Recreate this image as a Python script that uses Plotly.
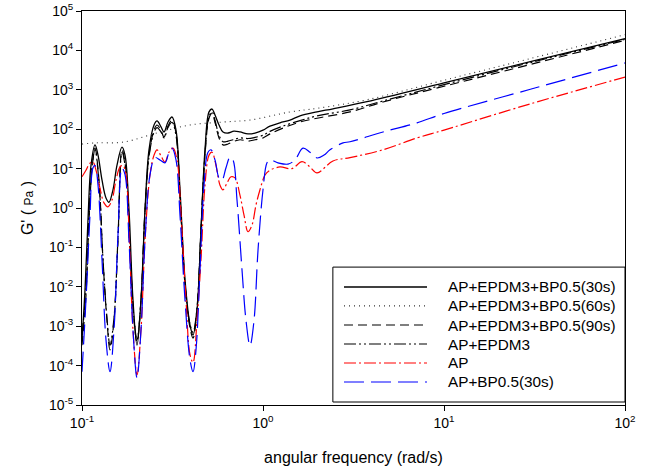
import plotly.graph_objects as go

# ---------------- data (angular frequency in rad/s, G' in Pa) ----------------
names = ["AP+EPDM3+BP0.5(30s)", "AP+EPDM3+BP0.5(60s)", "AP+EPDM3+BP0.5(90s)",
         "AP+EPDM3", "AP", "AP+BP0.5(30s)"]

x_30s = [0.100, 0.1039, 0.1079, 0.1121, 0.1180, 0.1226, 0.1290, 0.1357, 0.1410, 0.1483,
         0.1560, 0.1663, 0.1728, 0.1818, 0.1913, 0.2013, 0.2118, 0.2229, 0.2345, 0.2500,
         0.2597, 0.2732, 0.2838, 0.2986, 0.3142, 0.3306, 0.3479, 0.3708, 0.3952, 0.4106,
         0.4319, 0.4545, 0.4781, 0.5032, 0.5228, 0.5430, 0.5714, 0.6012, 0.6409, 0.6914,
         0.7463, 0.8263, 0.9033, 1.000, 1.093, 1.241, 1.410, 1.601, 1.988, 2.436,
         3.754, 10.0, 30.0, 100.0]
y_30s = [4.5e-4, 8.3e-3, 0.5, 12, 40, 22, 5.1, 1.8, 1.4, 2.9,
         12, 35, 22, 0.9, 4.6e-3, 3.3e-4, 4.6e-3, 0.9, 30, 128,
         162, 115, 85, 152, 204, 95, 2.9, 0.015, 1.07e-3, 6e-4,
         2.6e-3, 0.28, 30, 275, 325, 230, 128, 85, 80, 89,
         85, 76, 80, 95, 120, 145, 170, 218, 275, 330,
         500, 1500, 5200, 2.0e4]

x_60s = [0.100, 0.120, 0.169, 0.259, 0.395, 0.601, 0.848, 1.41, 2.0, 3.76, 10.0, 30.0, 100.0]
y_60s = [42, 45, 47, 80, 128, 152, 171, 274, 340, 560, 1750, 6200, 2.5e4]

x_90s = [0.100, 0.1052, 0.1093, 0.1136, 0.1180, 0.1241, 0.1306, 0.1374, 0.1428, 0.1502,
         0.1580, 0.1663, 0.1750, 0.1841, 0.1938, 0.2013, 0.2118, 0.2229, 0.2345, 0.2500,
         0.2597, 0.2732, 0.2838, 0.2986, 0.3142, 0.3306, 0.3479, 0.3708, 0.3952, 0.4106,
         0.4319, 0.4545, 0.4781, 0.5032, 0.5228, 0.5430, 0.5714, 0.6012, 0.6409, 0.6827,
         0.7463, 0.8263, 0.9033, 1.000, 1.093, 1.290, 1.601, 1.988, 3.025, 4.603,
         10.0, 30.0, 100.0]
y_90s = [3.3e-4, 6e-3, 0.5, 10, 33, 5.1, 0.048, 1.4e-3, 2.5e-4, 1.4e-3,
         0.15, 30, 9, 0.085, 1.4e-3, 4e-4, 4.6e-3, 0.9, 22, 95,
         128, 95, 63, 120, 170, 80, 2.1, 0.011, 9e-4, 5e-4,
         2.6e-3, 0.28, 22, 190, 257, 150, 60, 40, 42, 48,
         54, 50, 54, 60, 76, 107, 152, 190, 275, 490,
         1230, 4400, 1.8e4]

x_epdm = [0.100, 0.1052, 0.1093, 0.1136, 0.1180, 0.1241, 0.1306, 0.1374, 0.1428, 0.1502,
          0.1580, 0.1663, 0.1750, 0.1841, 0.1938, 0.2013, 0.2118, 0.2229, 0.2345, 0.2500,
          0.2597, 0.2732, 0.2838, 0.2986, 0.3142, 0.3306, 0.3479, 0.3708, 0.3952, 0.4106,
          0.4319, 0.4545, 0.4781, 0.5032, 0.5228, 0.5430, 0.5714, 0.6012, 0.6409, 0.6827,
          0.7463, 0.8263, 0.9033, 1.000, 1.093, 1.290, 1.601, 1.988, 3.025, 4.603,
          10.0, 30.0, 100.0]
y_epdm = [6e-4, 8e-3, 0.6, 11, 30, 4.5, 0.05, 1.6e-3, 3.3e-4, 1.6e-3,
          0.17, 26, 8, 0.08, 1.6e-3, 4.5e-4, 4.6e-3, 0.8, 20, 85,
          110, 85, 60, 110, 150, 70, 2, 0.012, 1.1e-3, 7e-4,
          3e-3, 0.3, 25, 210, 275, 170, 70, 48, 50, 54,
          60, 58, 62, 70, 88, 120, 165, 218, 310, 520,
          1350, 4900, 1.9e4]

x_ap = [0.100, 0.1052, 0.1107, 0.1150, 0.1195, 0.1257, 0.1323, 0.1392, 0.1465, 0.1541,
        0.1622, 0.1684, 0.1750, 0.1818, 0.1913, 0.2013, 0.2118, 0.2229, 0.2376, 0.2500,
        0.2597, 0.2732, 0.2874, 0.3025, 0.3183, 0.3349, 0.3524, 0.3754, 0.3952, 0.4106,
        0.4319, 0.4545, 0.4781, 0.5032, 0.5228, 0.5500, 0.5787, 0.6012, 0.6325, 0.6654,
        0.7004, 0.7463, 0.7853, 0.8263, 0.8696, 0.9148, 0.9625, 1.026, 1.093, 1.241,
        1.446, 1.643, 1.818, 1.988, 2.436, 3.025, 4.603, 7.093, 10.0, 30.0,
        100.0]
y_ap = [6.2, 9.1, 13.8, 14.7, 9.1, 3.2, 1.35, 1.07, 1.6, 5.1,
        11, 12, 7, 0.28, 8e-4, 5.8e-5, 8e-4, 0.15, 7, 22,
        30, 21, 14.7, 26, 33, 16.6, 0.66, 4.6e-3, 1.9e-4, 1.2e-4,
        1.4e-3, 0.05, 3.8, 22, 26, 12, 3.8, 2.9, 4.3, 6.2,
        5.8, 2.1, 0.66, 0.25, 0.37, 1.2, 2.9, 6.9, 9.1, 11,
        10, 15, 11, 7.8, 15.6, 19, 30, 60, 95, 440,
        2100]

x_bp = [0.100, 0.1052, 0.1107, 0.1150, 0.1180, 0.1226, 0.1290, 0.1357, 0.1428, 0.1502,
        0.1580, 0.1663, 0.1728, 0.1818, 0.1913, 0.2013, 0.2118, 0.2229, 0.2376, 0.2531,
        0.2697, 0.2874, 0.3025, 0.3142, 0.3306, 0.3479, 0.3708, 0.3952, 0.4106, 0.4264,
        0.4487, 0.4721, 0.4968, 0.5161, 0.5430, 0.5714, 0.5935, 0.6245, 0.6572, 0.6827,
        0.7184, 0.7656, 0.8056, 0.8476, 0.8919, 0.9385, 1.000, 1.052, 1.093, 1.210,
        1.374, 1.502, 1.663, 1.818, 1.988, 2.173, 2.345, 2.767, 3.025, 4.603,
        7.093, 10.0, 30.0, 100.0]
y_bp = [7e-5, 4.6e-3, 0.66, 10.5, 12, 3.8, 0.048, 4.5e-4, 7e-5, 8e-4,
        0.2, 10.5, 7, 0.15, 8e-4, 4.9e-5, 8e-4, 0.15, 7, 19,
        16.6, 14, 26, 33, 16.6, 0.66, 4.6e-3, 1.4e-4, 7e-5, 2.5e-4,
        0.027, 3.8, 26, 30, 16.6, 5.8, 5.1, 10.5, 19.5, 16.6,
        1.6, 0.027, 1.4e-3, 3.2e-4, 1.4e-3, 0.085, 2.9, 14, 16.6, 14,
        13, 16.6, 33, 26, 18.6, 22, 30, 45, 48, 85,
        145, 250, 1030, 4800]

x_ticks = [0.1, 1, 10, 100]
x_ticktext = ["10<sup>-1</sup>", "10<sup>0</sup>", "10<sup>1</sup>", "10<sup>2</sup>"]
y_ticks = [1e-5, 1e-4, 1e-3, 1e-2, 1e-1, 1, 10, 100, 1e3, 1e4, 1e5]
y_ticktext = ["10<sup>-5</sup>", "10<sup>-4</sup>", "10<sup>-3</sup>", "10<sup>-2</sup>",
              "10<sup>-1</sup>", "10<sup>0</sup>", "10<sup>1</sup>", "10<sup>2</sup>",
              "10<sup>3</sup>", "10<sup>4</sup>", "10<sup>5</sup>"]

# ---------------- styles ----------------
colors = ["#000000", "#333333", "#000000", "#000000", "#ff0000", "#0000ff"]
dashes = ["solid", "1px,4px", "9px,5px", "12px,3px,2px,3px,2px,3px",
          "12px,3px,2px,3px", "20px,7px"]
widths = [1.3, 1.1, 1.2, 1.2, 1.2, 1.2]

series = [(x_30s, y_30s), (x_60s, y_60s), (x_90s, y_90s),
          (x_epdm, y_epdm), (x_ap, y_ap), (x_bp, y_bp)]

FONT = "Arial, Liberation Sans, sans-serif"

fig = go.Figure()
for (xs, ys), nm, c, d, w in zip(series, names, colors, dashes, widths):
    fig.add_trace(go.Scatter(x=xs, y=ys, name=nm, mode="lines",
                             line=dict(color=c, dash=d, width=w, shape="spline", smoothing=1.0),
                             showlegend=False))

# ---------------- custom legend (box, line samples, labels) ----------------
shapes = [dict(type="rect", xref="paper", yref="paper", x0=0.462, x1=1.0, y0=0.0076, y1=0.350,
               line=dict(color="black", width=1), fillcolor="white", layer="above")]
annotations = []
leg_y = [0.2995, 0.2515, 0.2030, 0.1548, 0.1066, 0.0584]
for i, nm in enumerate(names):
    shapes.append(dict(type="line", xref="paper", yref="paper", x0=0.4825, x1=0.6354,
                       y0=leg_y[i], y1=leg_y[i],
                       line=dict(color=colors[i], dash=dashes[i], width=widths[i]),
                       layer="above"))
    annotations.append(dict(xref="paper", yref="paper", x=0.670, y=leg_y[i], text=nm,
                            showarrow=False, xanchor="left", yanchor="middle",
                            font=dict(family=FONT, size=15.3, color="black")))

axis_common = dict(type="log", showgrid=False, zeroline=False, showline=True,
                   linecolor="black", linewidth=1, mirror=True, ticks="outside",
                   ticklen=5, tickwidth=1, tickcolor="black",
                   tickfont=dict(family=FONT, size=14, color="black"))

fig.update_layout(
    template="none",
    width=650, height=473,
    margin=dict(l=82, r=25, t=11, b=68),
    paper_bgcolor="white", plot_bgcolor="white",
    font=dict(family=FONT, color="black"),
    shapes=shapes, annotations=annotations,
    xaxis=dict(range=[-1, 2], tickvals=x_ticks, ticktext=x_ticktext,
               title=dict(text="angular frequency (rad/s)", standoff=22,
                          font=dict(family=FONT, size=16, color="black")),
               automargin=False, **axis_common),
    yaxis=dict(range=[-5, 5], tickvals=y_ticks, ticktext=y_ticktext,
               title=dict(text="G' ( <span style='font-size:12px'>Pa</span> )", standoff=11,
                          font=dict(family=FONT, size=16, color="black")),
               automargin=False, **axis_common),
)

fig.write_html("out.html", config={"displayModeBar": False},
               post_script="document.body.style.margin='0px';")
